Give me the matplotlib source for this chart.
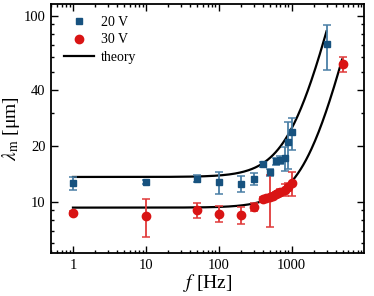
import numpy as np
import matplotlib
matplotlib.use("Agg")
import matplotlib.pyplot as plt
from matplotlib.lines import Line2D
from matplotlib.ticker import FixedLocator, NullFormatter, FixedFormatter

plt.rcParams['font.family'] = ['Liberation Serif', 'DejaVu Serif']
plt.rcParams['mathtext.fontset'] = 'stix'

# 20 V data
f20 = [1, 10, 50, 100, 200, 300, 400, 500, 600, 700, 800, 900, 1000, 3000]
lam20 = [12.6, 12.8, 13.3, 12.7, 12.5, 13.3, 15.9, 14.4, 16.5, 16.8, 17.2, 21.0, 23.6, 70.5]
err20 = [1.0, 0.3, 0.6, 1.7, 1.2, 1.0, 0.5, 0.6, 0.8, 0.8, 2.5, 6.0, 4.7, 19.0]

# 30 V data
f30 = [1, 10, 50, 100, 200, 300, 400, 450, 500, 550, 600, 650, 700, 800, 900, 1000, 5000]
lam30 = [8.7, 8.4, 9.0, 8.6, 8.5, 9.4, 10.3, 10.5, 10.6, 10.8, 11.0, 11.1, 11.3, 11.6, 12.0, 12.6, 55.0]
err30 = [0.2, 1.95, 0.8, 0.85, 0.9, 0.5, 0.3, 0.3, 3.3, 0.3, 0.3, 0.3, 0.4, 0.8, 0.6, 1.8, 5.0]

# theory parameters: lambda = lam0 * (1 + (f/fc)**n)
theory20 = dict(lam0=13.6, fc=1120.0, n=1.65, fmax=3000)
theory30 = dict(lam0=9.3, fc=1790.0, n=1.65, fmax=4900)

xticks = [1, 10, 100, 1000]
xticklabels = ['1', '10', '100', '1000']
yticks = [10, 20, 40, 100]
yticklabels = ['10', '20', '40', '100']

c20, e20 = '#17527f', '#4a7fa6'
c30, e30 = '#d91414', '#e03a3a'

fig = plt.figure(figsize=(3.74, 2.96), dpi=100)
ax = fig.add_axes([51/374, 43/296, 313/374, 249/296])

def theory(p):
    f = np.logspace(0, np.log10(p['fmax']), 300)
    return f, p['lam0'] * (1 + (f / p['fc']) ** p['n'])

for p in (theory20, theory30):
    ft, lt = theory(p)
    ax.plot(ft, lt, color='black', lw=1.6, zorder=2)

ax.errorbar(f20, lam20, yerr=err20, fmt='s', color=c20, ecolor=e20, ms=5,
            elinewidth=1.3, capsize=2.8, capthick=1.1, zorder=3)
ax.errorbar(f30, lam30, yerr=err30, fmt='o', color=c30, ecolor=e30, ms=6,
            elinewidth=1.3, capsize=2.8, capthick=1.1, zorder=3)

ax.set_xscale('log')
ax.set_yscale('log')
ax.set_xlim(0.5, 9800)
ax.set_ylim(5.3, 116)

ax.xaxis.set_major_locator(FixedLocator(xticks))
ax.xaxis.set_major_formatter(FixedFormatter(xticklabels))
ax.xaxis.set_minor_locator(FixedLocator([m * 10**e for e in range(-1, 4) for m in range(2, 10)]))
ax.xaxis.set_minor_formatter(NullFormatter())
ax.yaxis.set_major_locator(FixedLocator(yticks))
ax.yaxis.set_major_formatter(FixedFormatter(yticklabels))
ax.yaxis.set_minor_locator(FixedLocator([6, 7, 8, 9, 30, 50, 60, 70, 80, 90]))
ax.yaxis.set_minor_formatter(NullFormatter())

ax.tick_params(which='both', direction='in', top=True, right=True, labelsize=10.5, width=1.0)
ax.tick_params(which='major', length=5, pad=4)
ax.tick_params(which='minor', length=2.5)
for s in ax.spines.values():
    s.set_linewidth(1.3)

ax.set_xlabel(r'$f$ [Hz]', fontsize=14, labelpad=0)
ax.set_ylabel(r'$\lambda_{\rm m}$ [μm]', fontsize=14, labelpad=1)

handles = [Line2D([], [], ls='none', marker='s', color=c20, ms=5),
           Line2D([], [], ls='none', marker='o', color=c30, ms=6),
           Line2D([], [], color='black', lw=1.6)]
ax.legend(handles, ['20 V', '30 V', 'theory'], loc='upper left', frameon=False,
          fontsize=10, handlelength=2.2, handletextpad=0.45, labelspacing=0.3,
          borderaxespad=0.3, bbox_to_anchor=(0.01, 0.99))

fig.savefig('out.png', dpi=100)
